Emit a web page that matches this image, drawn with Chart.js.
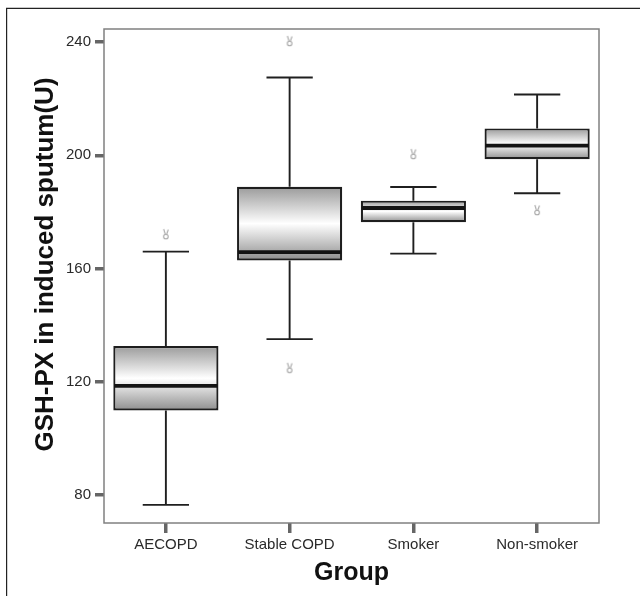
<!DOCTYPE html>
<html>
<head>
<meta charset="utf-8">
<script src="https://cdn.jsdelivr.net/npm/chart.js@4.4.0/dist/chart.umd.min.js"></script>
<style>
  html, body { margin: 0; padding: 0; background: #fff; }
  #wrap { position: relative; width: 640px; height: 596px; overflow: hidden; }
  canvas { display: block; }
</style>
</head>
<body>
<div id="wrap"><canvas id="c" width="640" height="596"></canvas></div>
<script>
const categories = ['AECOPD', 'Stable COPD', 'Smoker', 'Non-smoker'];
const whiskerLow  = [76.6, 135.1, 165.3, 186.6];
const q1          = [109.9, 162.9, 176.4, 198.6];
const median      = [118.6, 165.8, 181.4, 203.4];
const q3          = [132.7, 188.9, 184.0, 209.5];
const whiskerHigh = [166.0, 227.5, 188.8, 221.5];
const outliers    = [[172.2], [240.4, 125.0], [200.5], [180.7]];
const yTickValues = [80, 120, 160, 200, 240];
const yMin = 70.2, yMax = 244.6;
const yTitle = 'GSH-PX in induced sputum(U)';
const xTitle = 'Group';

const FONT = '"Liberation Sans", Arial, Helvetica, sans-serif';

// outlier glyph
const glyph = document.createElement('canvas');
glyph.width = 8; glyph.height = 12;
(function(){
  const g = glyph.getContext('2d');
  g.strokeStyle = '#a8a8a8'; g.lineWidth = 1.1;
  g.beginPath(); g.arc(4, 8.5, 2.3, 0, Math.PI * 2); g.stroke();
  g.beginPath(); g.moveTo(1.8, 1); g.lineTo(3.3, 6); g.moveTo(6.4, 1.5); g.lineTo(4.8, 6); g.stroke();
})();

const boxData = categories.map((c, i) => [q1[i], q3[i]]);
const outlierData = [];
outliers.forEach((arr, i) => arr.forEach(v => outlierData.push({ x: categories[i], y: v })));

const framePlugin = {
  id: 'frames',
  beforeDraw(chart) {
    const c = chart.ctx;
    c.save();
    c.fillStyle = '#fff';
    c.fillRect(0, 0, chart.width, chart.height);
    c.strokeStyle = '#222';
    c.lineWidth = 1.2;
    c.beginPath();
    c.moveTo(6.6, chart.height);
    c.lineTo(6.6, 8.3);
    c.lineTo(chart.width, 8.3);
    c.stroke();
    c.restore();
  },
  beforeDatasetsDraw(chart) {
    const a = chart.chartArea, c = chart.ctx;
    c.save();
    c.strokeStyle = '#808080';
    c.lineWidth = 1.5;
    c.strokeRect(a.left, a.top, a.right - a.left, a.bottom - a.top);
    // whiskers
    const y = chart.scales.y;
    const meta = chart.getDatasetMeta(0);
    c.strokeStyle = '#1f1f1f';
    c.lineWidth = 1.9;
    meta.data.forEach((bar, i) => {
      const cx = bar.x;
      const half = bar.width * 0.22;
      const yl = y.getPixelForValue(whiskerLow[i]);
      const yh = y.getPixelForValue(whiskerHigh[i]);
      const y1 = y.getPixelForValue(q1[i]);
      const y3 = y.getPixelForValue(q3[i]);
      c.beginPath();
      c.moveTo(cx, y1); c.lineTo(cx, yl);
      c.moveTo(cx - half, yl); c.lineTo(cx + half, yl);
      c.moveTo(cx, y3); c.lineTo(cx, yh);
      c.moveTo(cx - half, yh); c.lineTo(cx + half, yh);
      c.stroke();
    });
    c.restore();
  },
  afterDatasetsDraw(chart) {
    const c = chart.ctx, y = chart.scales.y;
    const meta = chart.getDatasetMeta(0);
    c.save();
    c.strokeStyle = '#141414';
    c.lineWidth = 3.8;
    meta.data.forEach((bar, i) => {
      const ym = y.getPixelForValue(median[i]);
      c.beginPath();
      c.moveTo(bar.x - bar.width / 2 + 1, ym);
      c.lineTo(bar.x + bar.width / 2 - 1, ym);
      c.stroke();
    });
    c.restore();
  },
  afterDraw(chart) {
    const c = chart.ctx;
    c.save();
    c.fillStyle = '#111';
    c.font = 'bold 26px ' + FONT;
    c.textAlign = 'center';
    c.textBaseline = 'alphabetic';
    c.translate(53, 264.5);
    c.rotate(-Math.PI / 2);
    c.fillText(yTitle, 0, 0);
    c.restore();
  }
};

new Chart(document.getElementById('c'), {
  type: 'bar',
  data: {
    labels: categories,
    datasets: [
      {
        type: 'bar',
        data: boxData,
        backgroundColor(ctx) {
          const chart = ctx.chart;
          const y = chart.scales && chart.scales.y;
          if (!y || ctx.type !== 'data' || !Array.isArray(ctx.raw)) return '#cccccc';
          const top = y.getPixelForValue(ctx.raw[1]);
          const bot = y.getPixelForValue(ctx.raw[0]);
          if (!isFinite(top) || !isFinite(bot) || top === bot) return '#cccccc';
          const g = chart.ctx.createLinearGradient(0, top, 0, bot);
          g.addColorStop(0, '#9a9a9a');
          g.addColorStop(0.5, '#ffffff');
          g.addColorStop(1, '#8e8e8e');
          return g;
        },
        borderColor: '#1e1e1e',
        borderWidth: 2.2,
        borderSkipped: false,
        barPercentage: 0.85,
        categoryPercentage: 1.0,
        order: 2
      },
      {
        type: 'scatter',
        data: outlierData,
        pointStyle: glyph,
        pointRadius: 5,
        order: 1
      }
    ]
  },
  options: {
    responsive: false,
    animation: false,
    devicePixelRatio: 1,
    layout: { padding: { top: 29, right: 41, left: 0, bottom: 0 } },
    plugins: { legend: { display: false }, tooltip: { enabled: false } },
    scales: {
      x: {
        type: 'category',
        offset: true,
        afterFit(s) { s.height = 73; },
        grid: { display: true, drawOnChartArea: false, drawTicks: true, tickLength: 10, lineWidth: 3.5, color: '#666', offset: false },
        border: { display: false },
        ticks: { color: '#2a2a2a', padding: 3, font: { family: FONT, size: 15 } },
        title: { display: true, text: xTitle, color: '#111', padding: { top: 0, bottom: 8 }, font: { family: FONT, size: 25, weight: 'bold' } }
      },
      y: {
        type: 'linear',
        min: yMin,
        max: yMax,
        afterFit(s) { s.width = 104; },
        afterBuildTicks(s) { s.ticks = yTickValues.map(v => ({ value: v })); },
        grid: { display: true, drawOnChartArea: false, drawTicks: true, tickLength: 9, lineWidth: 3.5, color: '#666' },
        border: { display: false },
        ticks: { color: '#2a2a2a', padding: 4, font: { family: FONT, size: 15 } },
        title: { display: false }
      }
    }
  },
  plugins: [framePlugin]
});
</script>
</body>
</html>
